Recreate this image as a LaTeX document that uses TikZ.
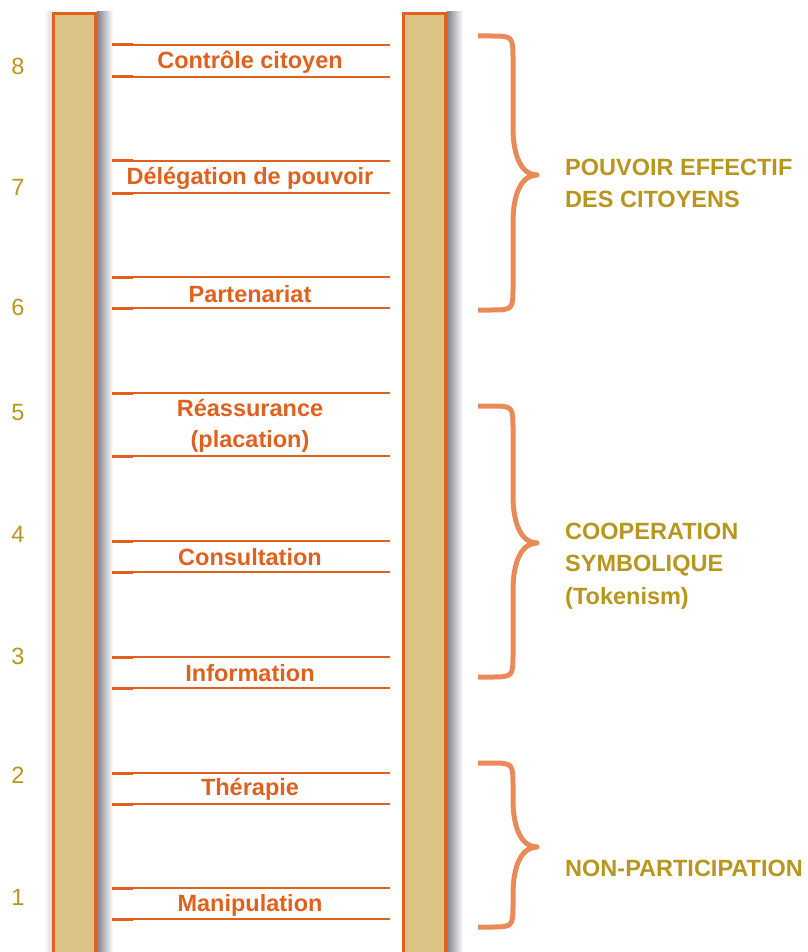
\documentclass[tikz,border=0pt]{standalone}
\usepackage{fontspec}
\setmainfont{Liberation Sans}
\usetikzlibrary{shadings}
\definecolor{rail}{HTML}{DBC386}
\definecolor{railedge}{HTML}{E0601E}
\definecolor{rung}{HTML}{E0601E}
\definecolor{gold}{HTML}{B8961E}
\definecolor{bracec}{HTML}{EA8A58}
\definecolor{shadowc}{HTML}{7E828A}
\tikzset{
  railbox/.style={rectangle,fill=rail,draw=railedge,line width=2.5pt,inner sep=0pt,minimum width=42pt,minimum height=946.5pt},
  railshadow/.style={left color=shadowc,right color=white,draw=none},
  rungline/.style={draw=rung,line width=1.8pt},
  rungstub/.style={draw=rung,line width=3pt},
  runglabel/.style={text=rung,font=\fontsize{23.5}{31}\selectfont\bfseries,align=center,inner sep=0pt},
  numlabel/.style={text=gold,font=\fontsize{23.5}{28}\selectfont,inner sep=0pt},
  bracelabel/.style={text=gold,font=\fontsize{23.5}{31.5}\selectfont\bfseries,align=left,anchor=west,inner sep=0pt},
  bracepath/.style={draw=bracec,line width=5pt,line cap=butt,line join=round},
}
\begin{document}
\begin{tikzpicture}[x=1pt,y=-1pt]
\useasboundingbox (0,0) rectangle (807,952);
% shadows
\shade[railshadow] (97,12) rectangle (113,960);
\shade[railshadow] (447,12) rectangle (463,960);
\shade[left color=white,right color=shadowc!30,draw=none] (44,12) rectangle (52,960);
% rails
\node[railbox] (leftrail) at (74.5,486.75) {};
\node[railbox] (rightrail) at (424.5,486.75) {};
% rungs
\foreach \a/\b [count=\i] in {888/919,773/804,657/688,541/572,393/456,277/308,161/193,45/77}{
  \coordinate (ra\i) at (112,\a);
  \coordinate (rb\i) at (390,\a);
  \coordinate (rc\i) at (112,\b);
  \coordinate (rd\i) at (390,\b);
  \draw[rungline] (ra\i) -- (rb\i);
  \draw[rungline] (rc\i) -- (rd\i);
  \draw[rungstub] (ra\i) -- ++(21,0);
  \draw[rungstub] (rc\i) -- ++(21,0);
}
% rung labels
\node[runglabel] (l8) at (250,62) {Contrôle citoyen};
\node[runglabel] (l7) at (250,178) {Délégation de pouvoir};
\node[runglabel] (l6) at (250,294) {Partenariat};
\node[runglabel] (l5) at (250,426) {Réassurance\\(placation)};
\node[runglabel] (l4) at (250,557) {Consultation};
\node[runglabel] (l3) at (250,673) {Information};
\node[runglabel] (l2) at (250,789) {Thérapie};
\node[runglabel] (l1) at (250,905) {Manipulation};
% numbers
\node[numlabel] (n8) at (18,66) {8};
\node[numlabel] (n7) at (18,187) {7};
\node[numlabel] (n6) at (18,307) {6};
\node[numlabel] (n5) at (18,413) {5};
\node[numlabel] (n4) at (18,534) {4};
\node[numlabel] (n3) at (18,656) {3};
\node[numlabel] (n2) at (18,775) {2};
\node[numlabel] (n1) at (18,897) {1};
% braces
\foreach \t/\m/\b in {36/175/310,406/543/677,763/847/927}{
  \draw[bracepath] (478,\t) -- (490,\t) .. controls (513,\t) .. (513,\t+24)
    -- (513,\m-48) .. controls (513,\m-14) and (524,\m) .. (537,\m)
    .. controls (524,\m) and (513,\m+14) .. (513,\m+48)
    -- (513,\b-24) .. controls (513,\b) .. (490,\b) -- (478,\b);
}
% brace labels
\node[bracelabel] (g1) at (565,183.5) {POUVOIR EFFECTIF\\DES CITOYENS};
\node[bracelabel,font=\fontsize{23.5}{32.5}\selectfont\bfseries] (g2) at (565,566) {COOPERATION\\SYMBOLIQUE\\(Tokenism)};
\node[bracelabel] (g3) at (565,868) {NON-PARTICIPATION};
\end{tikzpicture}
\end{document}
